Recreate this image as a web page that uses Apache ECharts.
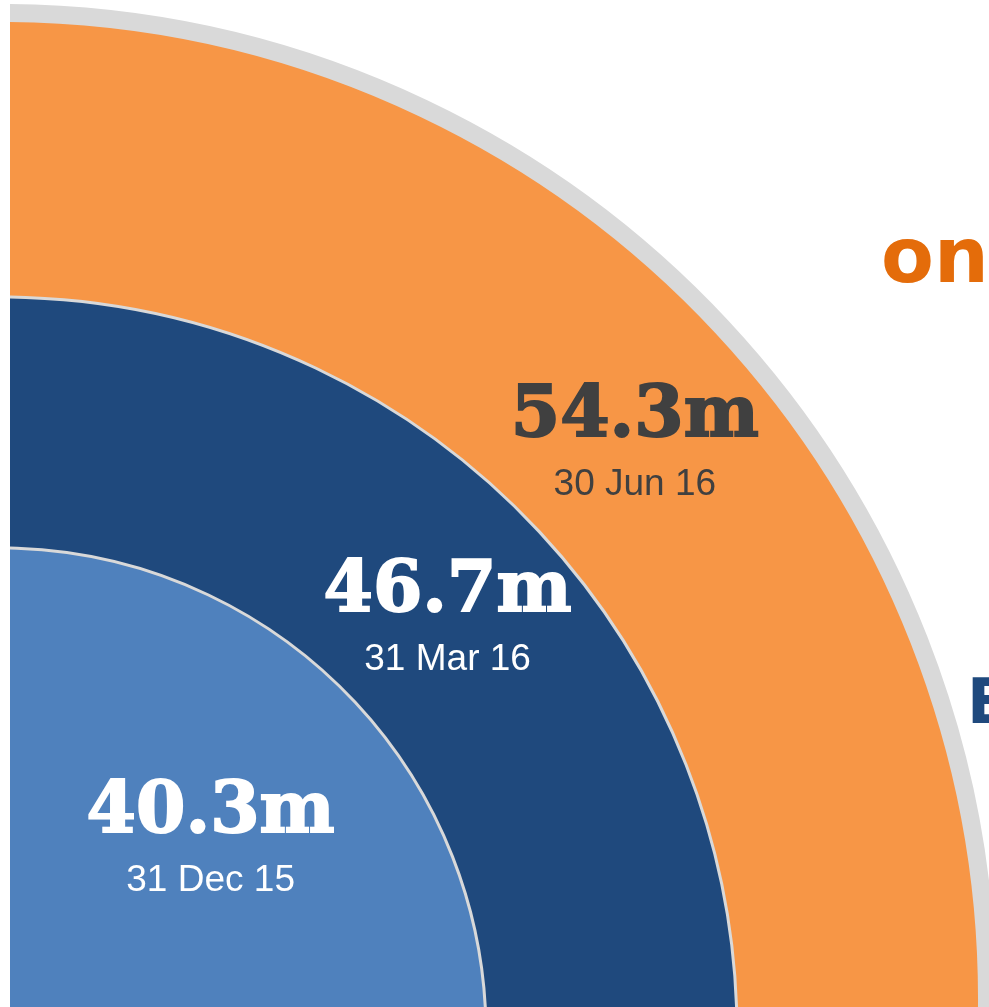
<!DOCTYPE html>
<html>
<head>
<meta charset="utf-8">
<script src="https://cdn.jsdelivr.net/npm/echarts@6/dist/echarts.min.js"></script>
<style>
  html, body { margin: 0; padding: 0; background: #ffffff; }
  #chart { position: absolute; left: 10px; top: 0; width: 979px; height: 1007px; }
</style>
</head>
<body>
<div id="chart"></div>
<script>
// ---- data ----
const dates  = ['31 Dec 15', '31 Mar 16', '30 Jun 16'];
const values = [40.3, 46.7, 54.3];
const sideTexts = ['on', 'E'];

// ---- styling / layout ----
const innerCenter = [-10, 1034];
const outerCenter = [-10, 1000];
const fillColors = ['#4F81BD', '#1F497D', '#F79646'];
const labelColors = ['#ffffff', '#ffffff', '#404040'];
const discRadius = [486, 737, 987];
const labelRadius = [285, 609, 865];
const labelStart = 223;

function discSeries(i, center, border) {
  return {
    type: 'pie', silent: true, animation: false,
    center: center, radius: [0, discRadius[i]],
    startAngle: labelStart, clockwise: true,
    label: { show: false }, labelLine: { show: false },
    emphasis: { disabled: true },
    itemStyle: { color: fillColors[i], borderColor: '#D9D9D9', borderWidth: border },
    data: [{ name: dates[i], value: values[i] }],
    z: 1 + (2 - i)
  };
}

function labelSeries(i) {
  return {
    type: 'pie', silent: true, animation: false,
    center: innerCenter, radius: [labelRadius[i] - 10, labelRadius[i] + 10],
    startAngle: labelStart, clockwise: true, avoidLabelOverlap: false,
    itemStyle: { color: 'rgba(0,0,0,0)', borderWidth: 0 },
    emphasis: { disabled: true },
    labelLine: { show: false },
    label: {
      show: true, position: 'inside', rotate: 0,
      formatter: p => '{val|' + p.value + 'm}\n{dt|' + p.name + '}',
      rich: {
        val: { fontFamily: 'DejaVu Serif', fontWeight: 'bold', fontSize: 71, lineHeight: 86,
               color: labelColors[i], textBorderColor: labelColors[i], textBorderWidth: 2,
               align: 'center' },
        dt:  { fontFamily: 'Liberation Sans, Arial, sans-serif', fontSize: 37, lineHeight: 48,
               color: labelColors[i], align: 'center' }
      }
    },
    data: [{ name: dates[i], value: values[i] }],
    z: 10
  };
}

const chart = echarts.init(document.getElementById('chart'), null, { renderer: 'canvas' });
chart.setOption({
  animation: false,
  backgroundColor: 'transparent',
  tooltip: { show: false },
  series: [
    discSeries(2, outerCenter, 18),
    discSeries(1, innerCenter, 3),
    discSeries(0, innerCenter, 3),
    labelSeries(2),
    labelSeries(1),
    labelSeries(0)
  ],
  graphic: [
    { type: 'text', x: 871, y: 223, z: 20, silent: true,
      style: { text: sideTexts[0], fontFamily: 'DejaVu Sans', fontWeight: 'bold', fontSize: 77, fill: '#E46C0A' } },
    { type: 'text', x: 957, y: 676, z: 20, silent: true,
      style: { text: sideTexts[1], fontFamily: 'DejaVu Sans', fontWeight: 'bold', fontSize: 62, fill: '#1F497D' } }
  ]
});
</script>
</body>
</html>
